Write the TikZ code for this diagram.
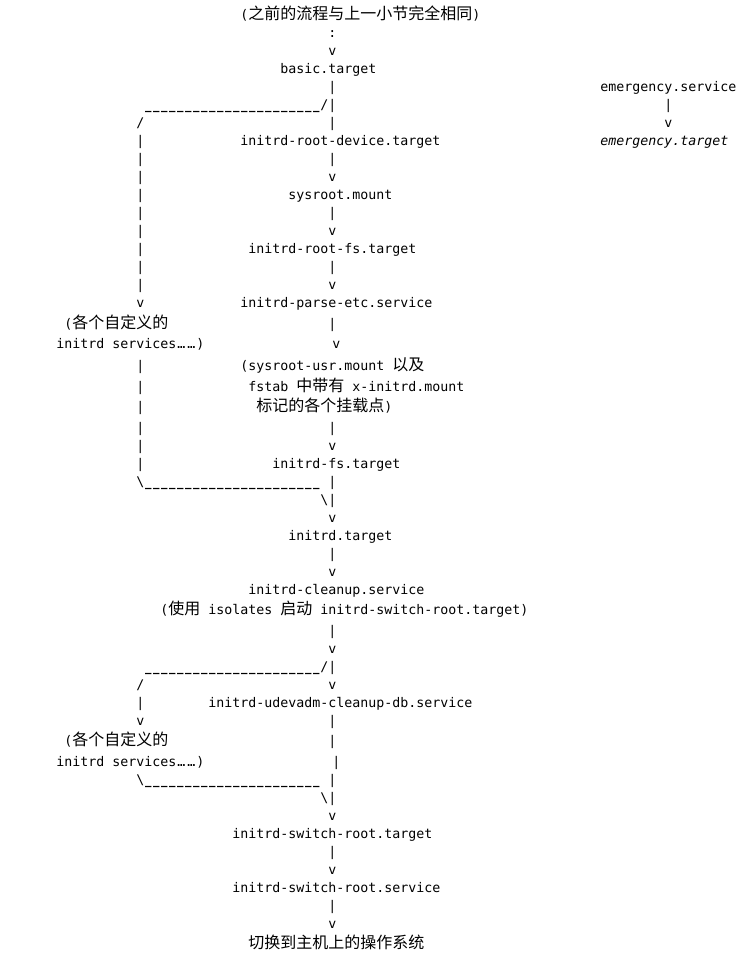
\documentclass[tikz,border=0pt]{standalone}
\usepackage{fontspec}
\newfontfamily\monofam{DejaVu Sans Mono}
\newfontfamily\cjkfam{Noto Sans CJK SC}
\newcommand\monof{\monofam\fontsize{9.966pt}{12pt}\selectfont}
\newcommand\cjkf{\cjkfam\fontsize{12pt}{14pt}\selectfont}
\newcommand\ud{\makebox[6pt][c]{\scalebox{0.8}[1]{\bfseries\_}}}
\newcommand\usline{\ud\ud\ud\ud\ud\ud\ud\ud\ud\ud\ud\ud\ud\ud\ud\ud\ud\ud\ud\ud\ud\ud}
\tikzset{
  mt/.style={anchor=base west, inner sep=0pt, outer sep=0pt, font=\monof, text=black},
  ct/.style={mt, font=\cjkf},
  it/.style={mt, font=\monof\itshape}
}
\begin{document}
\begin{tikzpicture}[x=6pt, y=-0.75pt]
\useasboundingbox (0,0) rectangle (92.75,969);
\fill[white] (0,0) rectangle (92.75,969);
\begin{scope}[xshift=6.225pt]
% line 0
\node[mt] (t0a) at (29,20) {(};
\node[ct] (title) at (30,20) {之前的流程与上一小节完全相同};
\node[mt] (t0b) at (58,20) {)};
\node[mt] (c1) at (40,38) {:};
\node[mt] (a2) at (40,56) {v};
\node[mt] (basic) at (34,74) {basic.target};
\node[mt] (b4) at (40,92) {|};
\node[mt] (emsvc) at (74,92) {emergency.service};
\node[mt] (br5) at (17,110) {\usline/|};
\node[mt] (e5) at (82,110) {|};
\node[mt] (s6) at (16,128) {/};
\node[mt] (b6) at (40,128) {|};
\node[mt] (e6) at (82,128) {v};
\node[mt] (l7) at (16,146) {|};
\node[mt] (rootdev) at (29,146) {initrd-root-device.target};
\node[it] (emtgt) at (74,146) {emergency.target};
\node[mt] (l8) at (16,164) {|};
\node[mt] (b8) at (40,164) {|};
\node[mt] (l9) at (16,182) {|};
\node[mt] (a9) at (40,182) {v};
\node[mt] (l10) at (16,200) {|};
\node[mt] (sysroot) at (35,200) {sysroot.mount};
\node[mt] (l11) at (16,218) {|};
\node[mt] (b11) at (40,218) {|};
\node[mt] (l12) at (16,236) {|};
\node[mt] (a12) at (40,236) {v};
\node[mt] (l13) at (16,254) {|};
\node[mt] (rootfs) at (30,254) {initrd-root-fs.target};
\node[mt] (l14) at (16,272) {|};
\node[mt] (b14) at (40,272) {|};
\node[mt] (l15) at (16,290) {|};
\node[mt] (a15) at (40,290) {v};
\node[mt] (l16) at (16,308) {v};
\node[mt] (parse) at (29,308) {initrd-parse-etc.service};
\node[mt] (p17) at (7,329) {(};
\node[ct] (cust1) at (8,329) {各个自定义的};
\node[mt] (b17) at (40,329) {|};
\node[mt] (svc1) at (6,349) {initrd services};
\node[mt] (d18a) at (21.125,349) {…};
\node[mt] (d18b) at (22.375,349) {…};
\node[mt] (p18) at (23.5,349) {)};
\node[mt] (a18) at (40.5,349) {v};
\node[mt] (l19) at (16,370) {|};
\node[mt] (usr) at (29,370) {(sysroot-usr.mount};
\node[ct] (usr2) at (48,370) {以及};
\node[mt] (l20) at (16,391) {|};
\node[mt] (fstab) at (30,391) {fstab};
\node[ct] (fstab2) at (36,391) {中带有};
\node[mt] (fstab3) at (43,391) {x-initrd.mount};
\node[mt] (l21) at (16,411) {|};
\node[ct] (mark) at (31,411) {标记的各个挂载点};
\node[mt] (mark2) at (47,411) {)};
\node[mt] (l22) at (16,432) {|};
\node[mt] (b22) at (40,432) {|};
\node[mt] (l23) at (16,450) {|};
\node[mt] (a23) at (40,450) {v};
\node[mt] (l24) at (16,468) {|};
\node[mt] (fs) at (33,468) {initrd-fs.target};
\node[mt] (br25) at (16,486) {\textbackslash\usline};
\node[mt] (b25) at (40,486) {|};
\node[mt] (j26) at (39,504) {\textbackslash|};
\node[mt] (a27) at (40,522) {v};
\node[mt] (initrd) at (35,540) {initrd.target};
\node[mt] (b29) at (40,558) {|};
\node[mt] (a30) at (40,576) {v};
\node[mt] (cleanup) at (30,594) {initrd-cleanup.service};
\node[mt] (p32) at (19,614) {(};
\node[ct] (use) at (20,614) {使用};
\node[mt] (iso) at (25,614) {isolates};
\node[ct] (start) at (34,614) {启动};
\node[mt] (swt) at (39,614) {initrd-switch-root.target)};
\node[mt] (b33) at (40,635) {|};
\node[mt] (a34) at (40,653) {v};
\node[mt] (br35) at (17,671) {\usline/|};
\node[mt] (s36) at (16,689) {/};
\node[mt] (a36) at (40,689) {v};
\node[mt] (l37) at (16,707) {|};
\node[mt] (udev) at (25,707) {initrd-udevadm-cleanup-db.service};
\node[mt] (l38) at (16,725) {v};
\node[mt] (b38) at (40,725) {|};
\node[mt] (p39) at (7,745) {(};
\node[ct] (cust2) at (8,745) {各个自定义的};
\node[mt] (b39) at (40,745) {|};
\node[mt] (svc2) at (6,766) {initrd services};
\node[mt] (d40a) at (21.125,766) {…};
\node[mt] (d40b) at (22.375,766) {…};
\node[mt] (p40) at (23.5,766) {)};
\node[mt] (b40) at (40.5,766) {|};
\node[mt] (br41) at (16,784) {\textbackslash\usline};
\node[mt] (b41) at (40,784) {|};
\node[mt] (j42) at (39,802) {\textbackslash|};
\node[mt] (a43) at (40,820) {v};
\node[mt] (swtgt) at (28,838) {initrd-switch-root.target};
\node[mt] (b45) at (40,856) {|};
\node[mt] (a46) at (40,874) {v};
\node[mt] (swsvc) at (28,892) {initrd-switch-root.service};
\node[mt] (b48) at (40,910) {|};
\node[mt] (a49) at (40,928) {v};
\node[ct] (host) at (30,948) {切换到主机上的操作系统};
\end{scope}
\end{tikzpicture}
\end{document}
